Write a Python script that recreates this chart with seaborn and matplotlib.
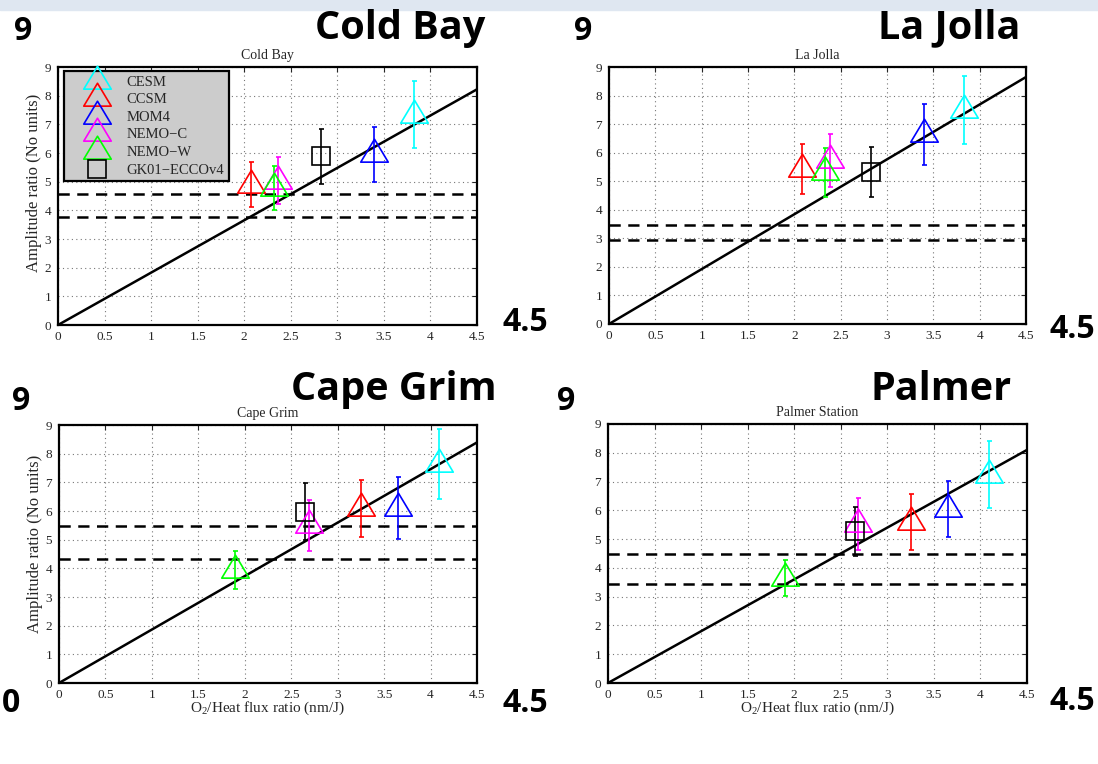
import numpy as np
import matplotlib
matplotlib.use("Agg")
import matplotlib.pyplot as plt
from matplotlib.path import Path
from matplotlib.lines import Line2D
import seaborn as sns

sns.set_style("white")
plt.rcParams["font.family"] = ["Liberation Serif", "DejaVu Serif"]
plt.rcParams["mathtext.fontset"] = "custom"
plt.rcParams["mathtext.rm"] = "Liberation Serif"
plt.rcParams["mathtext.it"] = "Liberation Serif:italic"

# ---- data -------------------------------------------------------------
models = ["CESM", "CCSM", "MOM4", "NEMO\u2212C", "NEMO\u2212W", "GK01\u2212ECCOv4"]
model_colors = ["#00ffff", "#ff0000", "#0000ff", "#ff00ff", "#00ff00", "#000000"]

stations = ["Cold Bay", "La Jolla", "Cape Grim", "Palmer Station"]
station_tags = ["Cold Bay", "La Jolla", "Cape Grim", "Palmer"]

cold_bay_x = [3.82, 2.07, 3.39, 2.36, 2.32, 2.82]
cold_bay_y = [7.34, 4.90, 5.95, 5.04, 4.78, 5.88]
cold_bay_err = [1.17, 0.80, 0.97, 0.82, 0.78, 0.95]
cold_bay_obs = [4.57, 3.77]
cold_bay_slope = 1.827

la_jolla_x = [3.83, 2.08, 3.40, 2.38, 2.33, 2.83]
la_jolla_y = [7.49, 5.44, 6.65, 5.73, 5.31, 5.32]
la_jolla_err = [1.19, 0.87, 1.07, 0.93, 0.85, 0.87]
la_jolla_obs = [3.48, 2.93]
la_jolla_slope = 1.922

cape_grim_x = [4.09, 3.25, 3.65, 2.69, 1.90, 2.65]
cape_grim_y = [7.65, 6.09, 6.11, 5.50, 3.95, 5.97]
cape_grim_err = [1.22, 1.00, 1.07, 0.89, 0.67, 0.99]
cape_grim_obs = [5.48, 4.31]
cape_grim_slope = 1.865

palmer_x = [4.09, 3.25, 3.65, 2.68, 1.90, 2.65]
palmer_y = [7.24, 5.59, 6.05, 5.52, 3.64, 5.27]
palmer_err = [1.16, 0.98, 0.98, 0.90, 0.63, 0.86]
palmer_obs = [4.49, 3.43]
palmer_slope = 1.80

panel_data = [
    (cold_bay_x, cold_bay_y, cold_bay_err, cold_bay_obs, cold_bay_slope),
    (la_jolla_x, la_jolla_y, la_jolla_err, la_jolla_obs, la_jolla_slope),
    (cape_grim_x, cape_grim_y, cape_grim_err, cape_grim_obs, cape_grim_slope),
    (palmer_x, palmer_y, palmer_err, palmer_obs, palmer_slope),
]

x_ticks = [0, 0.5, 1, 1.5, 2, 2.5, 3, 3.5, 4, 4.5]
x_tick_labels = ["0", "0.5", "1", "1.5", "2", "2.5", "3", "3.5", "4", "4.5"]
y_ticks = list(range(10))

# ---- marker shapes ----------------------------------------------------
# upward triangle whose centroid sits on the data point
tri = Path([(0, 1.0), (-0.9, -0.5), (0.9, -0.5), (0, 1.0)],
           [Path.MOVETO, Path.LINETO, Path.LINETO, Path.CLOSEPOLY])
model_markers = [tri, tri, tri, tri, tri, "s"]
model_ms = [22, 22, 22, 22, 22, 13.5]

# ---- figure -----------------------------------------------------------
W, H = 1098, 764
fig = plt.figure(figsize=(W / 100, H / 100), dpi=100)

# pale header strip
fig.patches.append(plt.Rectangle((0, 1 - 10 / H), 1, 10 / H, transform=fig.transFigure,
                                 color="#dfe7f1", zorder=0))

axes_px = [(58, 67, 419, 258), (609, 67, 417, 257),
           (59, 425, 418, 258), (608, 424, 419, 259)]

for i, (station, (xs, ys, es, obs, slope)) in enumerate(zip(stations, panel_data)):
    l, t, w, h = axes_px[i]
    ax = fig.add_axes([l / W, 1 - (t + h) / H, w / W, h / H])

    ax.set_xlim(0, 4.5)
    ax.set_ylim(0, 9)
    ax.set_xticks(x_ticks)
    ax.set_xticklabels(x_tick_labels)
    ax.set_yticks(y_ticks)
    ax.grid(True, color="#777777", linestyle=(0, (1, 3)), linewidth=0.8)
    ax.tick_params(direction="in", top=True, right=True, length=3.5, width=0.8,
                   labelsize=9.5)
    ax.tick_params(axis="x", pad=4)
    ax.tick_params(axis="y", pad=5)
    for sp in ax.spines.values():
        sp.set_linewidth(1.6)
        sp.set_color("black")

    # observed range
    for yo in obs:
        ax.axhline(yo, color="black", linestyle=(0, (4.5, 3)), linewidth=1.8, zorder=2)

    # reference line through origin
    x_line = np.array([0.0, 4.5])
    sns.lineplot(x=x_line, y=slope * x_line, ax=ax, color="black", linewidth=1.8,
                 zorder=3, legend=False)

    # model estimates with uncertainties
    for xv, yv, ev, c, m, ms in zip(xs, ys, es, model_colors, model_markers, model_ms):
        ax.errorbar(xv, yv, yerr=ev, fmt="none", ecolor=c, elinewidth=1.2,
                    capsize=1.8, capthick=1.2, zorder=4)
        ax.plot(xv, yv, marker=m, markersize=ms, markerfacecolor="none",
                markeredgecolor=c, markeredgewidth=1.2, linestyle="none", zorder=5)

    ax.set_title(station, fontsize=10, pad=6)
    if i % 2 == 0:
        ax.set_ylabel("Amplitude ratio (No units)", fontsize=12)
        ax.yaxis.set_label_coords(-0.038, 0.55 if i == 0 else 0.54)
    if i >= 2:
        ax.set_xlabel(r"O$_2$/Heat flux ratio (nm/J)", fontsize=11, labelpad=-1)

    if i == 0:
        handles = [Line2D([], [], marker=m, markersize=ms, markerfacecolor="none",
                          markeredgecolor=c, markeredgewidth=1.2, linestyle="none")
                   for c, m, ms in zip(model_colors, model_markers, model_ms)]
        leg = ax.legend(handles, models, loc="upper left",
                        bbox_to_anchor=(0.014, 0.984), borderaxespad=0,
                        fontsize=10.5, labelspacing=0.3, handlelength=4.0,
                        handletextpad=0.0, borderpad=0.3, frameon=True,
                        fancybox=False, framealpha=1)
        leg.get_frame().set_facecolor("#cccccc")
        leg.get_frame().set_edgecolor("black")
        leg.get_frame().set_linewidth(1.6)
        leg.set_zorder(10)

# ---- large slide annotations ------------------------------------------
big = dict(family=["Open Sans", "DejaVu Sans"], weight="bold", color="black")


def ftext(xpx, ypx, s, size, ha="left"):
    fig.text(xpx / W, 1 - ypx / H, s, fontsize=size, ha=ha, va="baseline", **big)


ftext(14, 40, "9", 23)
ftext(574, 40, "9", 23)
ftext(12, 410, "9", 23)
ftext(557, 410, "9", 23)
ftext(485, 38.5, station_tags[0], 28.5, ha="right")
ftext(1020, 38.5, station_tags[1], 28.5, ha="right")
ftext(497, 400, station_tags[2], 28.5, ha="right")
ftext(1012, 400, station_tags[3], 28.5, ha="right")
ftext(502, 331, "4.5", 23)
ftext(1050, 338, "4.5", 23)
ftext(2, 712, "0", 23)
ftext(502, 712, "4.5", 23)
ftext(1050, 710, "4.5", 23)

fig.savefig("out.png", dpi=100)
